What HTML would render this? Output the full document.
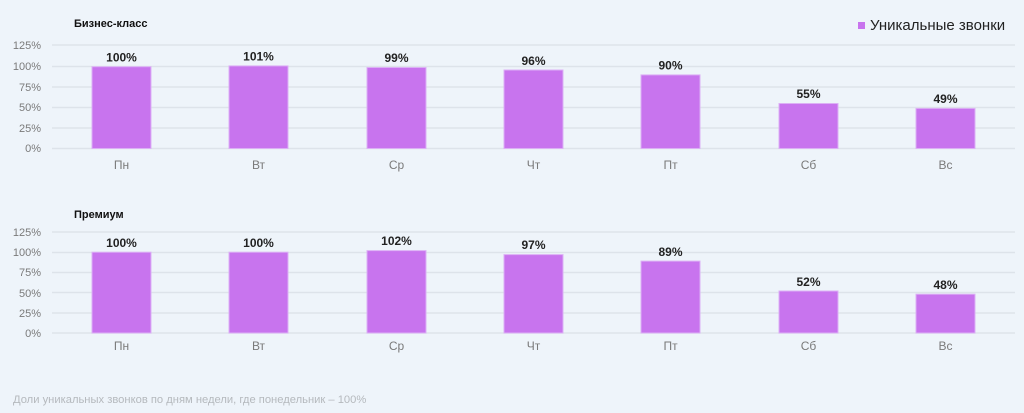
<!DOCTYPE html>
<html><head><meta charset="utf-8"><style>
html,body{margin:0;padding:0;background:#eef4fa;}
svg{display:block;font-family:"Liberation Sans","DejaVu Sans",sans-serif;}
.g{stroke:#dde3ea;stroke-width:1.5}
.yl{font-size:11px;fill:#7a7a7a;text-anchor:end}
.xl{font-size:12px;fill:#7a7a7a;text-anchor:middle}
.v{font-size:12px;font-weight:bold;fill:#222;text-anchor:middle}
.b{fill:#c874ee;stroke:#dcb0f5;stroke-width:1}
.t{font-size:11px;font-weight:bold;fill:#111}
</style></head><body>
<svg width="1024" height="413" viewBox="0 0 1024 413">
<rect width="1024" height="413" fill="#eef4fa"/>
<text class="t" x="74" y="27">Бизнес-класс</text>
<rect x="858" y="22" width="7" height="7" fill="#c874ee"/>
<text x="870" y="30" font-size="15" fill="#222">Уникальные звонки</text>
<g id="top">
<line class="g" x1="52" x2="1015" y1="45" y2="45"/>
<line class="g" x1="52" x2="1015" y1="66.5" y2="66.5"/>
<line class="g" x1="52" x2="1015" y1="87" y2="87"/>
<line class="g" x1="52" x2="1015" y1="107.5" y2="107.5"/>
<line class="g" x1="52" x2="1015" y1="128" y2="128"/>
<line class="g" x1="52" x2="1015" y1="148.5" y2="148.5"/>
<text class="yl" x="41" y="49">125%</text>
<text class="yl" x="41" y="70">100%</text>
<text class="yl" x="41" y="91">75%</text>
<text class="yl" x="41" y="111">50%</text>
<text class="yl" x="41" y="132">25%</text>
<text class="yl" x="41" y="152">0%</text>
<rect class="b" x="92" y="66.7" width="59" height="81.8"/><text class="v" x="121.5" y="61.5">100%</text>
<rect class="b" x="229" y="65.9" width="59" height="82.6"/><text class="v" x="258.5" y="60.5">101%</text>
<rect class="b" x="367" y="67.5" width="59" height="81"/><text class="v" x="396.5" y="62">99%</text>
<rect class="b" x="504" y="70" width="59" height="78.5"/><text class="v" x="533.5" y="65">96%</text>
<rect class="b" x="641" y="74.9" width="59" height="73.6"/><text class="v" x="670.5" y="69.5">90%</text>
<rect class="b" x="779" y="103.5" width="59" height="45"/><text class="v" x="808.5" y="98">55%</text>
<rect class="b" x="916" y="108.4" width="59" height="40.1"/><text class="v" x="945.5" y="103">49%</text>
<text class="xl" x="121.5" y="169">Пн</text>
<text class="xl" x="258.5" y="169">Вт</text>
<text class="xl" x="396.5" y="169">Ср</text>
<text class="xl" x="533.5" y="169">Чт</text>
<text class="xl" x="670.5" y="169">Пт</text>
<text class="xl" x="808.5" y="169">Сб</text>
<text class="xl" x="945.5" y="169">Вс</text>
</g>
<text class="t" x="74" y="218">Премиум</text>
<g>
<line class="g" x1="52" x2="1015" y1="232" y2="232"/>
<line class="g" x1="52" x2="1015" y1="252.5" y2="252.5"/>
<line class="g" x1="52" x2="1015" y1="272.5" y2="272.5"/>
<line class="g" x1="52" x2="1015" y1="292.5" y2="292.5"/>
<line class="g" x1="52" x2="1015" y1="313" y2="313"/>
<line class="g" x1="52" x2="1015" y1="333" y2="333"/>
<text class="yl" x="41" y="236">125%</text>
<text class="yl" x="41" y="256">100%</text>
<text class="yl" x="41" y="276">75%</text>
<text class="yl" x="41" y="297">50%</text>
<text class="yl" x="41" y="317">25%</text>
<text class="yl" x="41" y="337">0%</text>
<rect class="b" x="92" y="252.2" width="59" height="80.8"/><text class="v" x="121.5" y="247">100%</text>
<rect class="b" x="229" y="252.2" width="59" height="80.8"/><text class="v" x="258.5" y="247">100%</text>
<rect class="b" x="367" y="250.6" width="59" height="82.4"/><text class="v" x="396.5" y="245">102%</text>
<rect class="b" x="504" y="254.6" width="59" height="78.4"/><text class="v" x="533.5" y="249">97%</text>
<rect class="b" x="641" y="261.1" width="59" height="71.9"/><text class="v" x="670.5" y="256">89%</text>
<rect class="b" x="779" y="291" width="59" height="42"/><text class="v" x="808.5" y="286">52%</text>
<rect class="b" x="916" y="294.2" width="59" height="38.8"/><text class="v" x="945.5" y="289">48%</text>
<text class="xl" x="121.5" y="350">Пн</text>
<text class="xl" x="258.5" y="350">Вт</text>
<text class="xl" x="396.5" y="350">Ср</text>
<text class="xl" x="533.5" y="350">Чт</text>
<text class="xl" x="670.5" y="350">Пт</text>
<text class="xl" x="808.5" y="350">Сб</text>
<text class="xl" x="945.5" y="350">Вс</text>
</g>
<text x="13" y="403" font-size="11.2" fill="#b5b9bd">Доли уникальных звонков по дням недели, где понедельник – 100%</text>
</svg>
</body></html>
